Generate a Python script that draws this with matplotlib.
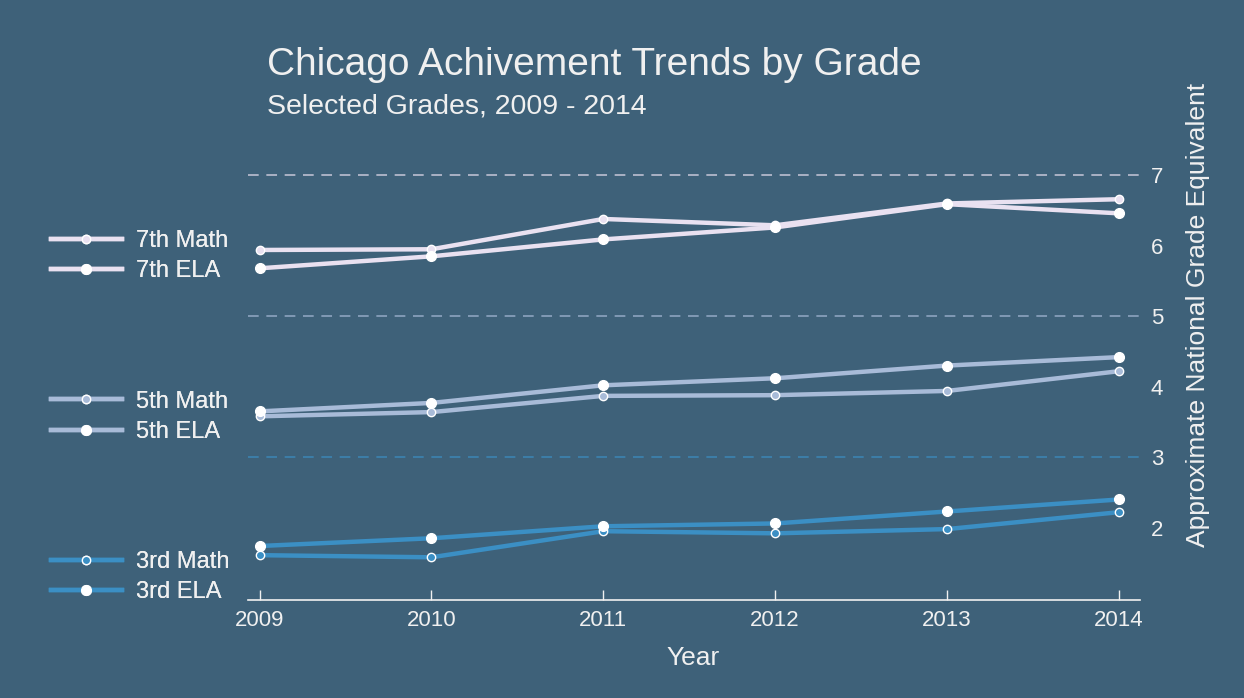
import matplotlib
matplotlib.use("Agg")
import matplotlib.pyplot as plt
from matplotlib.lines import Line2D

plt.rcParams['font.family'] = ['Liberation Sans', 'DejaVu Sans']

years = [2009, 2010, 2011, 2012, 2013, 2014]
math_7 = [5.94, 5.95, 6.38, 6.29, 6.60, 6.66]
ela_7 = [5.68, 5.85, 6.09, 6.26, 6.59, 6.46]
math_5 = [3.58, 3.64, 3.87, 3.88, 3.94, 4.22]
ela_5 = [3.65, 3.77, 4.02, 4.12, 4.30, 4.42]
math_3 = [1.61, 1.58, 1.95, 1.92, 1.98, 2.22]
ela_3 = [1.74, 1.85, 2.02, 2.06, 2.23, 2.40]
y_ticks = [2, 3, 4, 5, 6, 7]
grid_levels = [3, 5, 7]

bg = '#3e6179'
fg = '#f0f0f0'
c7 = '#e9e1f1'
c5 = '#a8bbd8'
c3 = '#3b8fc4'

fig = plt.figure(figsize=(12.44, 6.98), dpi=100, facecolor=bg)
ax = fig.add_axes([0.199, 0.140, 0.717, 0.619], facecolor=bg)

# dashed guide lines, coloured by grade band
for lvl, col in zip(grid_levels, [c3, c5, c7]):
    ax.axhline(lvl, color=col, lw=1.1, ls=(0, (7, 5)), alpha=0.8, zorder=1)

series = [
    (math_7, c7, 'open', '7th Math'),
    (ela_7, c7, 'fill', '7th ELA'),
    (math_5, c5, 'open', '5th Math'),
    (ela_5, c5, 'fill', '5th ELA'),
    (math_3, c3, 'open', '3rd Math'),
    (ela_3, c3, 'fill', '3rd ELA'),
]
handles = []
for vals, col, kind, name in series:
    if kind == 'open':
        mk = dict(marker='o', ms=6, mfc=col, mec='white', mew=1.0)
    else:
        mk = dict(marker='o', ms=7, mfc='white', mec='white')
    ax.plot(years, vals, color=col, lw=3.2, zorder=3, **mk)
    handles.append(Line2D([], [], color=col, lw=3.2, **mk))

ax.set_xlim(2008.93, 2014.12)
ax.set_ylim(0.97, 7.1)
ax.set_xticks(years)
ax.set_yticks(y_ticks)
ax.yaxis.tick_right()
ax.yaxis.set_label_position('right')
for s in ['top', 'left', 'right']:
    ax.spines[s].set_visible(False)
ax.spines['bottom'].set_color(fg)
ax.spines['bottom'].set_linewidth(1.2)
ax.tick_params(axis='x', colors=fg, labelsize=16, direction='in', length=7, width=1, pad=7)
ax.tick_params(axis='y', colors=fg, labelsize=16, length=0, pad=8)
ax.set_xlabel('Year', color=fg, fontsize=19, labelpad=11)
ax.set_ylabel('Approximate National Grade Equivalent', color=fg, fontsize=19)
ax.yaxis.set_label_coords(1.052, 0.66)

fig.text(0.215, 0.893, 'Chicago Achivement Trends by Grade', color=fg, fontsize=28, va='baseline')
fig.text(0.215, 0.838, 'Selected Grades, 2009 - 2014', color=fg, fontsize=20.5, va='baseline')

# three stacked legend groups on the left
legend_y = [0.633, 0.403, 0.173]
for i, ly in enumerate(legend_y):
    leg = fig.legend(handles[2 * i:2 * i + 2], [s[3] for s in series[2 * i:2 * i + 2]],
                     loc='center left', bbox_to_anchor=(0.041, ly), frameon=False,
                     fontsize=17, labelcolor=fg, handlelength=3.0, handletextpad=0.6,
                     labelspacing=0.35, borderaxespad=0, borderpad=0)
    fig.add_artist(leg)

fig.savefig('out.png', dpi=100, facecolor=bg)
